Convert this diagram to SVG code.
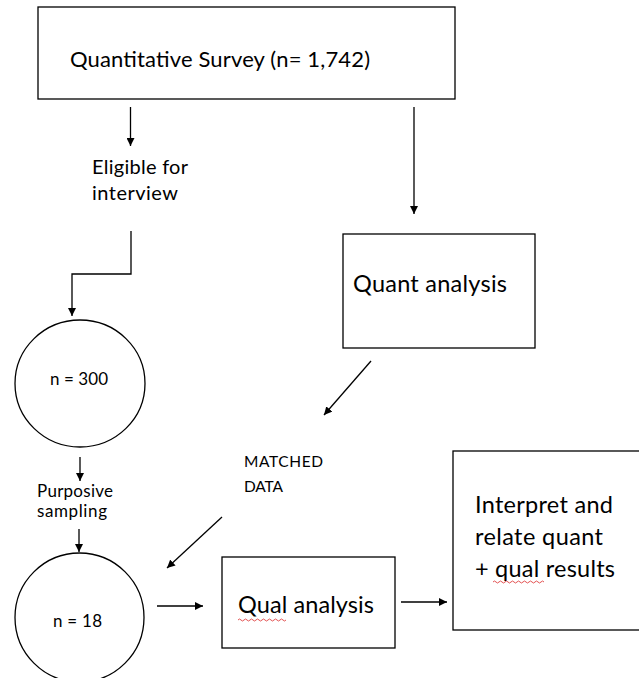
<svg xmlns="http://www.w3.org/2000/svg" width="639" height="678" viewBox="0 0 639 678">
<defs>
<style>
.box{fill:#fff;stroke:#000;stroke-width:1.3}
.t{font-family:Lato,"Open Sans","Liberation Sans",sans-serif;fill:#000}
.top{font-size:22px}
.big{font-size:23.5px}
.mid{font-size:20px}
.sm{font-size:17px}
.xs{font-size:15.5px}
.c{fill:none;stroke:#000;stroke-width:1.3}
.sq{fill:none;stroke:#e04040;stroke-width:0.9}
</style>
<marker id="ah" viewBox="0 0 10 10" refX="10" refY="5" markerWidth="8" markerHeight="8" markerUnits="userSpaceOnUse" orient="auto">
<path d="M0,0 L10,5 L0,10 z" fill="#000"/>
</marker>
</defs>
<rect width="639" height="678" fill="#fff"/>
<g id="connectors">
<line class="c" x1="130.5" y1="107" x2="130.5" y2="146" marker-end="url(#ah)"/>
<line class="c" x1="414" y1="107" x2="414" y2="214" marker-end="url(#ah)"/>
<polyline class="c" points="131,231 131,274 72,274 72,316" marker-end="url(#ah)"/>
<line class="c" x1="80" y1="457" x2="80" y2="481" marker-end="url(#ah)"/>
<line class="c" x1="79" y1="529" x2="79" y2="552" marker-end="url(#ah)"/>
<line class="c" x1="371" y1="361" x2="324" y2="415" marker-end="url(#ah)"/>
<line class="c" x1="222" y1="517" x2="167" y2="568" marker-end="url(#ah)"/>
<line class="c" x1="157" y1="606" x2="203" y2="606" marker-end="url(#ah)"/>
<line class="c" x1="401" y1="602" x2="447" y2="602" marker-end="url(#ah)"/>
</g>
<g id="survey">
<rect class="box" x="38" y="7" width="417" height="92"/>
<text class="t top" x="70" y="67" textLength="300" lengthAdjust="spacing">Quantitative Survey (n= 1,742)</text>
</g>
<g id="eligible">
<text class="t mid" x="92" y="174" textLength="96" lengthAdjust="spacing">Eligible for</text>
<text class="t mid" x="92" y="200" textLength="86" lengthAdjust="spacing">interview</text>
</g>
<g id="quant">
<rect class="box" x="343" y="234" width="192" height="114"/>
<text class="t big" x="353" y="292" textLength="154" lengthAdjust="spacing">Quant analysis</text>
</g>
<g id="n300">
<ellipse class="box" cx="80" cy="383.5" rx="65" ry="63.5"/>
<text class="t sm" x="50" y="385" textLength="58" lengthAdjust="spacing">n = 300</text>
</g>
<g id="purposive">
<text class="t sm" x="37" y="497" textLength="76" lengthAdjust="spacing">Purposive</text>
<text class="t sm" x="37" y="517" textLength="70" lengthAdjust="spacing">sampling</text>
</g>
<g id="n18">
<ellipse class="box" cx="79.5" cy="617.5" rx="64.5" ry="64.5"/>
<text class="t sm" x="53" y="627" textLength="49" lengthAdjust="spacing">n = 18</text>
</g>
<g id="matched">
<text class="t xs" x="244" y="467" textLength="79" lengthAdjust="spacing">MATCHED</text>
<text class="t xs" x="244" y="492" textLength="39" lengthAdjust="spacing">DATA</text>
</g>
<g id="qual">
<rect class="box" x="222" y="557" width="173" height="91"/>
<text class="t big" x="238" y="613" textLength="136" lengthAdjust="spacing">Qual analysis</text>
<path class="sq" d="M238,620 q1.5,-2 3,0 t3,0 t3,0 t3,0 t3,0 t3,0 t3,0 t3,0 t3,0 t3,0 t3,0 t3,0 t3,0 t3,0 t3,0 t3,0"/>
</g>
<g id="interpret">
<rect class="box" x="453" y="451" width="190" height="179"/>
<text class="t big" x="475" y="513" textLength="138" lengthAdjust="spacing">Interpret and</text>
<text class="t big" x="475" y="545" textLength="128" lengthAdjust="spacing">relate quant</text>
<text class="t big" x="475" y="577" textLength="140" lengthAdjust="spacing">+ qual results</text>
<path class="sq" d="M493,582 q1.5,-2 3,0 t3,0 t3,0 t3,0 t3,0 t3,0 t3,0 t3,0 t3,0 t3,0 t3,0 t3,0 t3,0 t3,0 t3,0 t3,0 t3,0"/>
</g>
</svg>
